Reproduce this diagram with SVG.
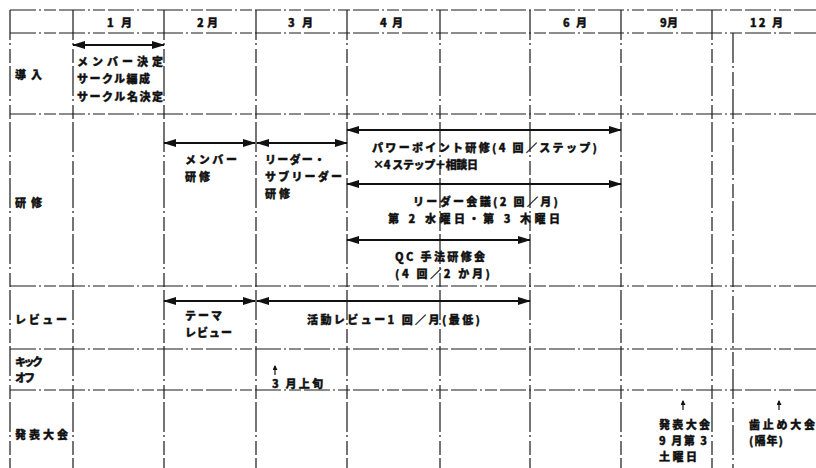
<svg xmlns="http://www.w3.org/2000/svg" width="816" height="468" viewBox="0 0 816 468">
<style>
.bg{fill:#ffffff}
.g{stroke:#1a1a1a;stroke-width:1.2;fill:none;stroke-dasharray:26 3 2 3 12 3}
.gv{stroke:#1a1a1a;stroke-width:1.2;fill:none;stroke-dasharray:30 3 2 4 14 3}
.t{font-family:"Noto Sans CJK JP","Noto Sans CJK SC",sans-serif;font-weight:900;font-size:11px;fill:#111;stroke:#111;stroke-width:0.35}
.a{stroke:#111;stroke-width:1.8;fill:none;marker-start:url(#ah);marker-end:url(#ah)}
.s{stroke:#111;stroke-width:1.2;fill:none;marker-end:url(#sh)}
</style>
<defs>
<marker id="ah" markerUnits="userSpaceOnUse" markerWidth="13" markerHeight="8" refX="12" refY="4" orient="auto-start-reverse">
<path d="M0,0 L13,4 L0,8 z" fill="#111"/>
</marker>
<marker id="sh" markerUnits="userSpaceOnUse" markerWidth="5" markerHeight="5" refX="4" refY="2.5" orient="auto">
<path d="M0,0 L5,2.5 L0,5 z" fill="#111"/>
</marker>
</defs>
<rect class="bg" x="0" y="0" width="816" height="468"/>

<g id="grid">
<line class="g" x1="10" y1="10" x2="816" y2="10"/>
<line class="g" x1="10" y1="33" x2="816" y2="33"/>
<line class="g" x1="10" y1="114" x2="816" y2="114"/>
<line class="g" x1="10" y1="286" x2="816" y2="286"/>
<line class="g" x1="10" y1="349" x2="816" y2="349"/>
<line class="g" x1="10" y1="390" x2="816" y2="390"/>
<line class="gv" x1="10" y1="10" x2="10" y2="468"/>
<line class="gv" x1="73" y1="10" x2="73" y2="468"/>
<line class="gv" x1="164" y1="10" x2="164" y2="468"/>
<line class="gv" x1="256" y1="10" x2="256" y2="468"/>
<line class="gv" x1="347" y1="10" x2="347" y2="468"/>
<line class="gv" x1="440" y1="10" x2="440" y2="468"/>
<line class="gv" x1="530" y1="10" x2="530" y2="468"/>
<line class="gv" x1="621" y1="10" x2="621" y2="468"/>
<line class="gv" x1="712" y1="10" x2="712" y2="468"/>
<line class="gv" x1="733" y1="33" x2="733" y2="468"/>
</g>

<g id="header">
<text class="t" x="107" y="27" textLength="25" lengthAdjust="spacing">1 月</text>
<text class="t" x="197" y="27" textLength="21" lengthAdjust="spacing">2 月</text>
<text class="t" x="288" y="27" textLength="25" lengthAdjust="spacing">3 月</text>
<text class="t" x="380" y="27" textLength="23" lengthAdjust="spacing">4 月</text>
<text class="t" x="563" y="27" textLength="24" lengthAdjust="spacing">6 月</text>
<text class="t" x="660" y="27" textLength="18" lengthAdjust="spacing">9月</text>
<text class="t" x="750" y="27" textLength="33" lengthAdjust="spacing">12 月</text>
</g>

<g id="row-labels">
<text class="t" x="15" y="79" textLength="27" lengthAdjust="spacing">導入</text>
<text class="t" x="15" y="207" textLength="27" lengthAdjust="spacing">研修</text>
<text class="t" x="15" y="324" textLength="52" lengthAdjust="spacing">レビュー</text>
<text class="t" x="15" y="366" textLength="28" lengthAdjust="spacing">キック</text>
<text class="t" x="15" y="382" textLength="20" lengthAdjust="spacing">オフ</text>
<text class="t" x="15" y="439" textLength="53" lengthAdjust="spacing">発表大会</text>
</g>

<g id="connectors">
<line class="a" x1="73" y1="45" x2="164" y2="45"/>
<line class="a" x1="164" y1="143" x2="255" y2="143"/>
<line class="a" x1="257" y1="143" x2="347" y2="143"/>
<line class="a" x1="347" y1="130" x2="621" y2="130"/>
<line class="a" x1="347" y1="184" x2="621" y2="184"/>
<line class="a" x1="347" y1="240" x2="530" y2="240"/>
<line class="a" x1="164" y1="301" x2="255" y2="301"/>
<line class="a" x1="257" y1="301" x2="530" y2="301"/>
<line class="s" x1="275" y1="375" x2="275" y2="366"/>
<line class="s" x1="683" y1="410" x2="683" y2="401"/>
<line class="s" x1="779" y1="410" x2="779" y2="401"/>
</g>

<g id="node-dounyu">
<text class="t" x="77" y="66" textLength="86" lengthAdjust="spacing">メンバー決定</text>
<text class="t" x="77" y="83" textLength="73" lengthAdjust="spacing">サークル編成</text>
<text class="t" x="77" y="101" textLength="86" lengthAdjust="spacing">サークル名決定</text>
</g>

<g id="node-member-kenshu">
<text class="t" x="185" y="164" textLength="52" lengthAdjust="spacing">メンバー</text>
<text class="t" x="185" y="181" textLength="25" lengthAdjust="spacing">研修</text>
</g>

<g id="node-leader-kenshu">
<text class="t" x="265" y="164" textLength="60" lengthAdjust="spacing">リーダー・</text>
<text class="t" x="265" y="181" textLength="77" lengthAdjust="spacing">サブリーダー</text>
<text class="t" x="265" y="198" textLength="25" lengthAdjust="spacing">研修</text>
</g>

<g id="node-powerpoint">
<text class="t" x="372" y="152" textLength="225" lengthAdjust="spacing">パワーポイント研修(4 回／ステップ)</text>
<text class="t" x="373" y="169" textLength="105" lengthAdjust="spacing">×4 ステップ＋相談日</text>
</g>

<g id="node-leader-kaigi">
<text class="t" x="413" y="206" textLength="145" lengthAdjust="spacing">リーダー会議(2 回／月)</text>
<text class="t" x="388" y="223" textLength="172" lengthAdjust="spacing">第 2 水曜日・第 3 木曜日</text>
</g>

<g id="node-qc">
<text class="t" x="395" y="261" textLength="90" lengthAdjust="spacing">QC 手法研修会</text>
<text class="t" x="395" y="278" textLength="95" lengthAdjust="spacing">(4 回／2 か月)</text>
</g>

<g id="node-theme-review">
<text class="t" x="185" y="320" textLength="37" lengthAdjust="spacing">テーマ</text>
<text class="t" x="185" y="337" textLength="47" lengthAdjust="spacing">レビュー</text>
</g>

<g id="node-katsudo-review">
<text class="t" x="307" y="324" textLength="173" lengthAdjust="spacing">活動レビュー1 回／月(最低)</text>
</g>

<g id="node-kickoff">
<text class="t" x="272" y="388" textLength="51" lengthAdjust="spacing">3 月上旬</text>
</g>

<g id="node-happyo">
<text class="t" x="659" y="429" textLength="51" lengthAdjust="spacing">発表大会</text>
<text class="t" x="659" y="445" textLength="48" lengthAdjust="spacing">9 月第 3</text>
<text class="t" x="659" y="461" textLength="38" lengthAdjust="spacing">土曜日</text>
</g>

<g id="node-hadome">
<text class="t" x="749" y="429" textLength="66" lengthAdjust="spacing">歯止め大会</text>
<text class="t" x="749" y="445" textLength="34" lengthAdjust="spacing">(隔年)</text>
</g>
</svg>
